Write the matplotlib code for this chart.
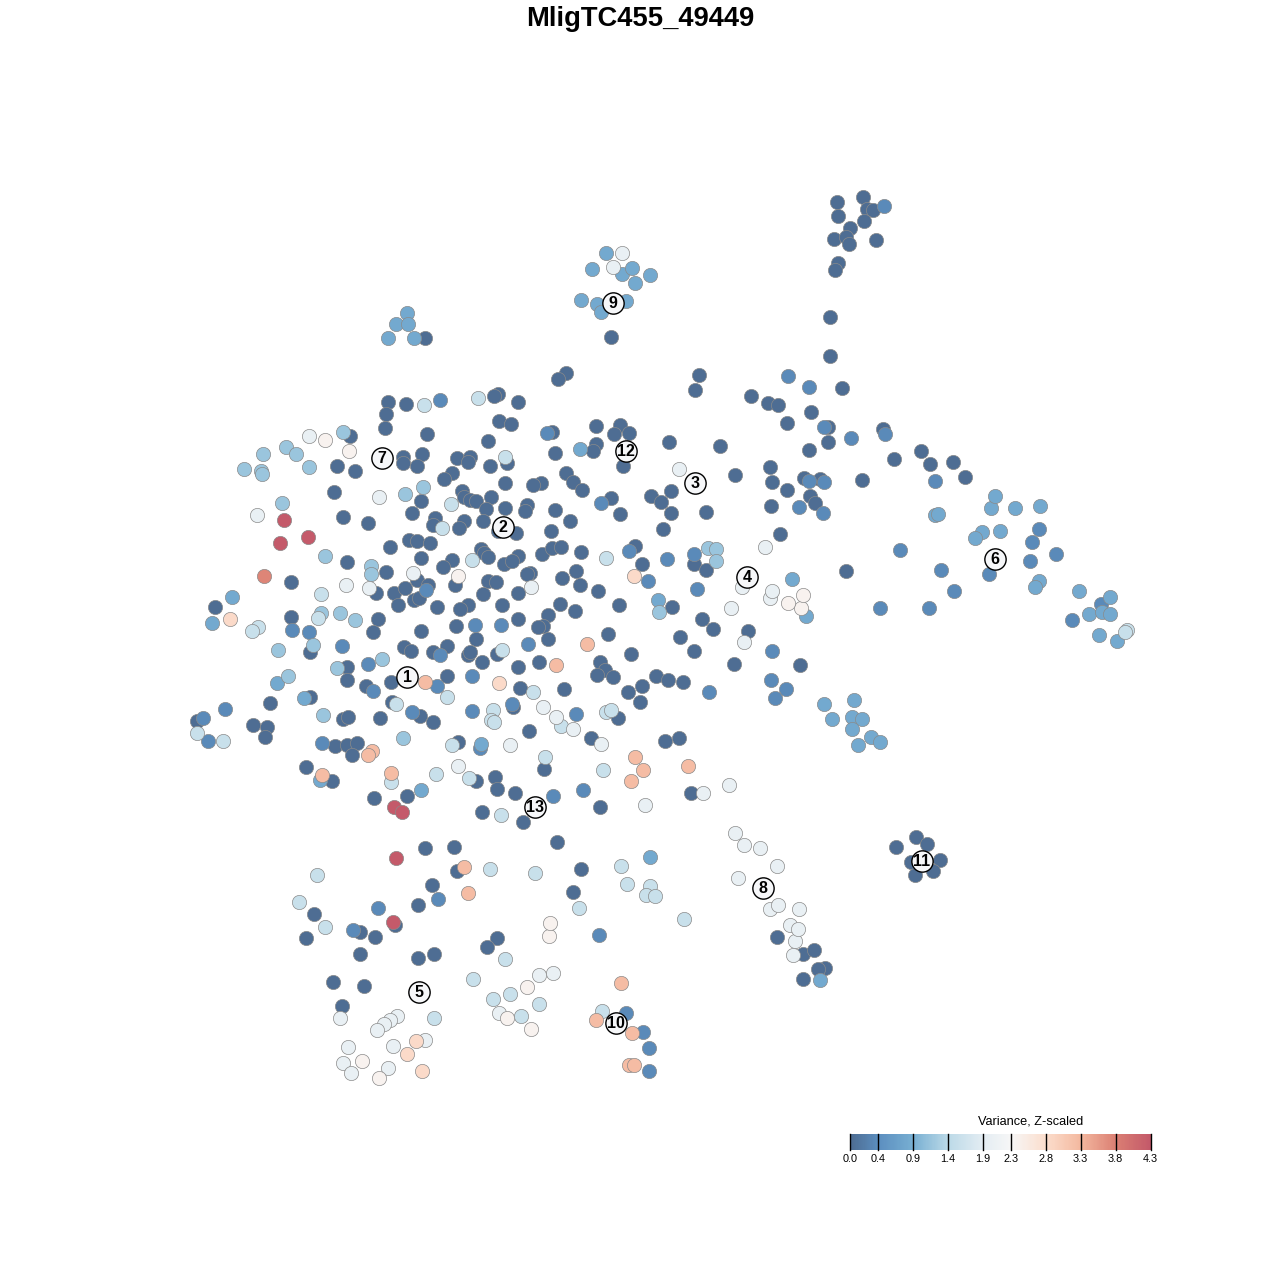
import numpy as np
import matplotlib
matplotlib.use("Agg")
import matplotlib.pyplot as plt
from matplotlib.colors import LinearSegmentedColormap

plt.rcParams['font.family'] = ['Liberation Sans', 'DejaVu Sans']

GENE = "MligTC455_49449"
VMAX = 4.3

# cell positions on the 2d map, grouped by z-scaled variance
dark = [(837,202),(863,197),(867,209),(873,210),(838,216),(864,221),(850,228),(834,239),(846,237),(849,244),(876,240),
        (838,263),(835,270),(830,317),(830,356),(425,338),(566,373),(558,379),(611,337),(699,375),(695,390),(842,388),
        (751,396),(768,403),(778,405),(811,412),(787,423),(828,427),(828,442),(809,450),(883,429),(894,459),(921,451),
        (930,464),(953,462),(965,477),(862,480),(770,467),(772,482),(787,490),(804,478),(820,479),(810,496),(815,503),
        (771,506),(780,534),(846,571),(735,475),(720,446),(669,442),(388,402),(406,404),(386,414),(385,428),(498,394),
        (494,396),(518,402),(499,421),(511,424),(427,434),(488,441),(350,436),(552,432),(596,426),(620,425),(629,433),
        (614,434),(596,444),(593,451),(555,453),(457,458),(470,457),(403,457),(403,463),(422,454),(417,466),(337,466),
        (355,471),(452,473),(468,462),(490,466),(507,463),(566,473),(573,482),(582,490),(541,483),(533,485),(623,466),
        (444,479),(334,492),(421,501),(462,491),(464,497),(470,500),(476,501),(491,497),(505,483),(486,509),(505,508),
        (527,505),(525,511),(555,510),(611,498),(651,496),(661,502),(671,491),(671,513),(620,514),(706,512),(663,529),
        (343,517),(368,523),(412,513),(435,518),(433,525),(464,521),(459,528),(483,521),(498,531),(516,533),(570,521),
        (551,531),(390,547),(409,540),(417,541),(430,543),(421,558),(347,562),(386,572),(452,560),(443,567),(481,549),
        (484,553),(488,557),(504,564),(518,556),(512,561),(542,554),(552,548),(561,547),(581,552),(635,546),(642,564),
        (694,564),(706,570),(291,582),(376,593),(394,593),(405,588),(417,580),(428,585),(455,585),(488,581),(496,582),
        (530,573),(527,574),(562,578),(576,571),(580,585),(598,591),(518,593),(483,594),(414,600),(398,605),(437,607),
        (419,598),(468,605),(460,609),(502,605),(560,604),(575,611),(619,605),(672,607),(702,619),(713,629),(748,631),
        (215,607),(291,617),(378,619),(373,632),(421,631),(456,626),(518,619),(548,615),(543,626),(538,627),(548,639),
        (476,639),(608,634),(680,637),(694,651),(734,664),(800,665),(310,652),(404,647),(411,651),(447,646),(433,652),
        (468,655),(470,652),(497,654),(482,662),(518,667),(539,662),(600,662),(631,654),(605,670),(597,675),(656,676),
        (613,677),(668,680),(683,682),(642,686),(628,692),(640,702),(347,667),(347,680),(391,682),(447,676),(520,688),
        (564,689),(366,686),(270,703),(310,697),(392,702),(343,719),(348,717),(380,718),(420,716),(433,722),(513,707),
        (618,718),(253,725),(267,727),(265,737),(197,721),(335,746),(347,745),(357,743),(458,742),(529,731),(591,738),
        (665,741),(679,738),(306,767),(332,781),(352,755),(476,781),(495,777),(497,789),(515,793),(544,769),(374,798),
        (407,796),(482,812),(523,822),(600,807),(691,793),(557,842),(425,848),(454,847),(457,871),(581,869),(432,885),
        (573,892),(418,905),(314,914),(306,938),(360,932),(375,937),(395,925),(360,954),(418,958),(434,954),(497,938),
        (487,947),(333,982),(364,986),(342,1006),(777,937),(803,954),(814,950),(825,968),(818,969),(803,979),(896,847),
        (916,837),(927,844),(911,862),(940,860),(933,871),(915,875)]
mid = [(884,206),(788,376),(809,387),(824,427),(851,438),(885,434),(935,481),(809,481),(824,482),(799,507),(823,513),
       (601,503),(547,433),(440,400),(629,551),(475,625),(501,625),(528,644),(440,655),(292,630),(342,646),(309,632),
       (368,664),(373,691),(437,686),(472,676),(203,718),(208,741),(225,709),(322,743),(480,748),(472,711),(412,712),
       (576,714),(512,704),(553,796),(583,790),(378,908),(353,930),(438,899),(599,935),(626,1013),(643,1032),(649,1048),
       (649,1071),(880,608),(929,608),(954,591),(941,570),(900,550),(1030,561),(1032,542),(1039,529),(1056,554),(989,574),
       (1072,620),(1101,604),(667,559),(694,554),(648,581),(697,589),(709,692),(772,651),(771,680),(786,689),(775,698),
       (426,590)]
blue = [(407,313),(396,324),(408,324),(388,338),(414,338),(581,300),(597,304),(601,312),(626,301),(635,283),(592,269),
        (622,274),(632,268),(650,275),(606,253),(580,449),(232,597),(212,623),(277,683),(304,698),(658,600),
        (792,579),(806,616),(991,508),(935,515),(938,514),(982,532),(975,538),(1000,531),(1015,508),(995,496),(1040,506),
        (1039,581),(1035,587),(1079,591),(1110,597),(1089,614),(1102,612),(1110,614),(1099,635),(1117,641),(824,704),
        (854,700),(832,719),(852,717),(862,719),(871,737),(880,742),(858,745),(852,729),(820,980),(481,744),(320,780),
        (421,790),(650,857)]
light = [(263,454),(286,447),(296,454),(309,467),(244,469),(261,471),(262,474),(282,503),(405,494),(423,487),(325,556),
         (371,566),(371,574),(321,613),(340,613),(355,620),(278,650),(313,645),(337,668),(382,659),
         (288,676),(323,715),(403,738),(708,548),(716,549),(716,561),(659,612),(343,432)]
pale = [(442,528),(472,560),(451,504),(424,405),(478,398),(505,457),(606,558),(436,774),(469,778),(603,770),(545,757),
        (452,745),(391,782),(501,815),(490,869),(535,873),(621,866),(627,884),(650,886),(646,895),(655,896),(684,919),
        (579,908),(317,875),(299,902),(325,927),(473,979),(505,959),(493,999),(510,994),(521,1016),(539,1004),(434,1018),
        (602,1011),(502,650),(533,692),(447,697),(396,704),(493,710),(491,720),(494,722),(606,712),(611,710),(561,726),
        (223,741),(197,733),(258,627),(252,631),(1127,630),(1125,632),(321,594),(318,618)]
white = [(622,253),(613,267),(257,515),(309,436),(379,497),(346,585),(369,588),(413,573),(531,587),(679,469),(765,547),
         (742,587),(731,608),(770,598),(772,591),(744,642),(510,745),(601,744),(458,766),(543,707),(556,717),(573,729),
         (645,805),(703,793),(729,785),(735,833),(744,845),(760,848),(777,866),(738,878),(770,909),(778,905),(799,909),
         (790,925),(795,941),(798,929),(793,955),(340,1018),(397,1016),(390,1020),(384,1024),(377,1030),(425,1040),(393,1046),
         (343,1063),(351,1073),(388,1068),(499,1013),(553,973),(539,975),(348,1047)]
offwhite = [(325,440),(349,451),(458,576),(549,936),(550,923),(527,987),(507,1018),(531,1029),(379,1078),(801,608),(788,603),
            (803,595),(362,1061)]
peach = [(499,683),(416,1041),(407,1054),(422,1071),(634,576),(230,619)]
salmon = [(425,682),(587,644),(556,665),(372,751),(368,755),(322,775),(391,773),(464,867),(468,893),(635,757),(643,770),
          (631,781),(688,766),(621,983),(596,1020),(632,1033),(629,1065),(634,1065)]
coral = [(264,576)]
red = [(284,520),(308,537),(280,543),(394,807),(402,812),(396,858),(393,922)]

groups = [dark, mid, blue, light, pale, white, offwhite, peach, salmon, coral, red]
group_values = [0.0, 0.35, 0.8, 1.15, 1.55, 2.0, 2.4, 2.85, 3.25, 3.75, 4.3]

cluster_ids = [1, 2, 3, 4, 5, 6, 7, 8, 9, 10, 11, 12, 13]
cluster_x = [407, 503, 695, 747, 419, 995, 382, 763, 613, 616, 922, 626, 535]
cluster_y = [677, 527, 483, 577, 992, 559, 458, 888, 303, 1023, 861, 451, 807]

tick_values = [0.0, 0.4, 0.9, 1.4, 1.9, 2.3, 2.8, 3.3, 3.8, 4.3]
ramp_values = [0.0, 0.4, 0.9, 1.4, 1.9, 2.3, 2.8, 3.3, 3.8, 4.3]
ramp_colors = ['#4e6d93', '#5c8fc0', '#79b0d3', '#bcdae8', '#e4edf3', '#f7f7f7',
               '#fcdecd', '#f4b9a0', '#dc8074', '#c45a6a']
cmap = LinearSegmentedColormap.from_list('var', [(v / VMAX, c) for v, c in zip(ramp_values, ramp_colors)])

fig = plt.figure(figsize=(12.8, 12.8), dpi=100)
ax = fig.add_axes([0, 0, 1, 1])
ax.set_xlim(0, 1280)
ax.set_ylim(1280, 0)
ax.axis('off')

for pts, val in zip(groups, group_values):
    xy = np.array(pts)
    ax.scatter(xy[:, 0], xy[:, 1], s=105, color=cmap(val / VMAX), edgecolors='#8a8a8a', linewidths=0.5, zorder=2)

ax.scatter(cluster_x, cluster_y, s=235, color='#f6f7f9', edgecolors='black', linewidths=1.0, zorder=3)
for cid, cx, cy in zip(cluster_ids, cluster_x, cluster_y):
    ax.text(cx, cy + 0.5, str(cid), ha='center', va='center', fontsize=11.5, fontweight='bold', color='black', zorder=4)

ax.text(640.5, 19, GENE, ha='center', va='center', fontsize=19.7, fontweight='bold')

# colour key
cax = fig.add_axes([850 / 1280, 1 - 1150 / 1280, 300.5 / 1280, 16 / 1280])
grad = np.linspace(0, VMAX, 300).reshape(1, -1)
cax.imshow(grad, aspect='auto', cmap=cmap, vmin=0, vmax=VMAX, extent=[0, VMAX, 0, 1])
cax.set_yticks([])
cax.set_xticks(tick_values)
cax.set_xticklabels([f'{t:.1f}' for t in tick_values], fontsize=7.8)
cax.tick_params(axis='x', length=0, pad=3.2)
for t in tick_values:
    cax.axvline(t, color='black', linewidth=1.0, clip_on=False)
for s in cax.spines.values():
    s.set_visible(False)
ax.text(1031, 1122, 'Variance, Z-scaled', ha='center', va='center', fontsize=9.2)

fig.savefig('out.png', dpi=100)
